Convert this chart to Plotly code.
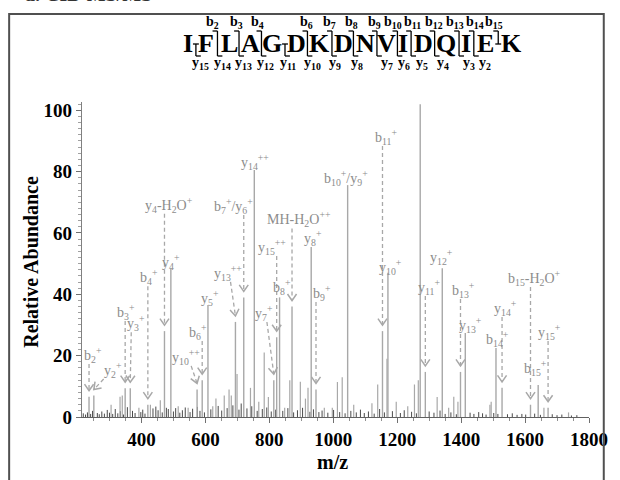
import math
import plotly.graph_objects as go

# ---------------- data ----------------
ion_labels = [
    "b<sub>2</sub><sup>+</sup>", "y<sub>2</sub><sup>+</sup>", "b<sub>3</sub><sup>+</sup>", "y<sub>3</sub><sup>+</sup>",
    "b<sub>4</sub><sup>+</sup>", "y<sub>4</sub>-H<sub>2</sub>O<sup>+</sup>", "y<sub>4</sub><sup>+</sup>",
    "y<sub>10</sub><sup>++</sup>", "b<sub>6</sub><sup>+</sup>", "y<sub>5</sub><sup>+</sup>",
    "y<sub>13</sub><sup>++</sup>", "b<sub>7</sub><sup>+</sup>/y<sub>6</sub><sup>+</sup>", "y<sub>14</sub><sup>++</sup>",
    "y<sub>7</sub><sup>+</sup>", "y<sub>15</sub><sup>++</sup>", "b<sub>8</sub><sup>+</sup>",
    "MH-H<sub>2</sub>O<sup>++</sup>", "y<sub>8</sub><sup>+</sup>", "b<sub>9</sub><sup>+</sup>",
    "b<sub>10</sub><sup>+</sup>/y<sub>9</sub><sup>+</sup>", "b<sub>11</sub><sup>+</sup>", "y<sub>10</sub><sup>+</sup>",
    "b<sub>12</sub><sup>+</sup>", "y<sub>11</sub><sup>+</sup>", "y<sub>12</sub><sup>+</sup>",
    "b<sub>13</sub><sup>+</sup>", "y<sub>13</sub><sup>+</sup>", "b<sub>14</sub><sup>+</sup>",
    "y<sub>14</sub><sup>+</sup>", "b<sub>15</sub>-H<sub>2</sub>O<sup>+</sup>", "b<sub>15</sub><sup>+</sup>",
    "y<sub>15</sub><sup>+</sup>",
]
ion_mz = [236, 251, 349, 365, 420, 472, 492, 574, 590, 608, 694, 720, 753, 814, 823, 832,
          871, 931, 946, 1045, 1154, 1171, 1272, 1288, 1341, 1398, 1413, 1509, 1528, 1617, 1641, 1672]
ion_int = [6.6, 7.0, 9.4, 9.4, 4.0, 28.0, 48.5, 9.0, 12.0, 36.5, 31.0, 39.0, 80.5, 12.0, 26.0, 39.0,
           36.0, 55.4, 9.0, 75.6, 28.0, 47.0, 102.0, 14.7, 48.5, 14.7, 27.4, 22.5, 9.5, 4.0, 10.4, 3.0]

other_mz = [305, 333, 340, 392, 428, 459, 515, 546, 623, 633, 659, 674, 681, 699, 741, 767, 784, 797,
            848, 864, 897, 913, 921, 972, 997, 1013, 1028, 1064, 1121, 1139, 1168, 1197, 1233, 1254,
            1266, 1325, 1361, 1377, 1390, 1490, 1494, 1659, 1736]
other_int = [4.0, 6.6, 7.0, 3.0, 4.0, 5.5, 3.5, 3.0, 3.5, 6.0, 7.0, 9.0, 7.0, 14.0, 9.5, 5.0, 21.0, 6.5,
             3.0, 12.0, 11.5, 6.0, 9.5, 3.0, 3.0, 11.4, 13.0, 4.0, 4.5, 10.6, 19.0, 5.0, 3.5, 10.6,
             12.0, 6.5, 3.0, 6.6, 5.0, 4.0, 5.0, 3.0, 1.5]

noise_mz = [218, 225, 231, 241, 247, 262, 268, 276, 284, 293, 300, 310, 318, 326, 334, 344, 356, 372,
            380, 398, 404, 411, 436, 445, 452, 465, 478, 484, 500, 507, 520, 528, 537, 552, 560, 575,
            583, 597, 617, 640, 651, 668, 686, 705, 712, 730, 745, 762, 778, 792, 806, 820, 842, 858,
            876, 888, 904, 927, 938, 955, 965, 983, 1001, 1020, 1037, 1055, 1072, 1085, 1097, 1110,
            1128, 1145, 1160, 1185, 1210, 1222, 1245, 1260, 1300, 1315, 1334, 1350, 1368, 1385, 1428,
            1440, 1455, 1467, 1478, 1502, 1515, 1545, 1560, 1575, 1590, 1602, 1630, 1648, 1685, 1700,
            1715, 1745, 1762]
noise_int = [1.2, 0.8, 1.5, 1.0, 2.0, 1.3, 0.9, 1.8, 1.1, 2.3, 1.4, 1.0, 2.6, 1.2, 1.9, 0.8, 3.2, 2.0,
             1.3, 1.6, 2.4, 1.1, 2.8, 3.4, 2.2, 1.5, 3.0, 2.6, 1.8, 2.9, 1.4, 2.2, 3.1, 1.6, 2.7, 3.3,
             2.0, 1.5, 2.5, 3.6, 2.1, 2.9, 3.8, 2.4, 4.4, 2.8, 3.5, 2.0, 2.6, 3.1, 1.8, 2.4, 2.0, 2.9,
             1.5, 2.2, 3.0, 1.7, 2.5, 1.6, 2.1, 1.4, 2.3, 1.6, 1.2, 2.0, 1.5, 2.4, 1.3, 1.8,
             1.1, 2.6, 1.5, 1.9, 1.3, 2.2, 1.7, 1.2, 1.8, 1.4, 2.1, 1.0, 1.5, 0.9, 1.4,
             1.0, 1.6, 1.2, 0.8, 1.3, 1.0, 0.9, 1.2, 0.7, 1.0, 0.8, 1.1, 0.7, 0.9, 0.6,
             0.8, 0.5, 0.6]

sequence = list("IFLAGDKDNVIDQIEK")
b_observed = [2, 3, 4, 6, 7, 8, 9, 10, 11, 12, 13, 14, 15]
y_observed = [15, 14, 13, 12, 11, 10, 9, 8, 7, 6, 5, 4, 3, 2]

x_ticks = [400, 600, 800, 1000, 1200, 1400, 1600, 1800]
y_ticks = [0, 20, 40, 60, 80, 100]

# ---------------- layout / style ----------------
W, H = 620, 480
PL, PR, PT, PB = 82, 23, 102, 63
X_RANGE = [214, 1800]
Y_RANGE = [0, 102.7]
PW, PH = W - PL - PR, H - PT - PB
KX = PW / (X_RANGE[1] - X_RANGE[0])   # px per m/z
KY = PH / (Y_RANGE[1] - Y_RANGE[0])   # px per % abundance

SERIF = "Liberation Serif"
LABEL_GRAY = "#8c8c8c"
LINE_GRAY = "#a8a8a8"
DARK = "#4a4a4a"

# per-ion label placement (layout): use arrow?, label x offset px, label height (%), arrow start x offset px
ion_arrow = [1, 1, 1, 1, 1, 1, 0, 1, 1, 0, 1, 1, 0, 1, 1, 0, 1, 0, 1, 0, 1, 0, 0, 1, 0, 1, 0, 0, 1, 1, 0, 1]
label_dx = [4, 19, 1, 6, 1, 5, 0, -11, -4, 2, -8, -10, 1, -10, -5, 2, 7.5, 2, 6, -2, 3.5, 3, 2, 4, -1, 3, 5, 2,
            3, 4, -3, 1]
label_y = [20.2, 15.3, 34.2, 30.6, 45.6, 69.2, 50.5, 19.6, 27.7, 38.8, 47.0, 68.8, 83.2, 33.9, 55.4, 42.4,
           64.4, 58.4, 40.4, 78.0, 91.3, 49.0, 106.6, 42.4, 52.2, 41.4, 30.0, 25.4, 35.5, 45.3, 16.0, 27.7]
start_dx = [0, 10, 0, 1, 0, 0, 0, -6, 0, 0, -5, 0, 0, -7, 0, 0, 0, 0, 0, 0, 0, 0, 0, 0, 0, 0, 0, 0, 0, 0, 0, 0]
TIP_GAP = 6      # px between arrow tip and peak top
START_GAP = 9    # px between label centre and dashed line start
ARM = 8          # chevron arm length px
ARM_ANGLE = math.radians(35)

# sequence graphic geometry (pixel positions)
SEQ_LETTER_X = [189.8, 207.7, 231.5, 253.4, 275.2, 300, 323, 347.8, 369.6, 391.5, 408.4, 429.3, 452.1,
                472, 491.9, 518.7]
SEQ_CUT_X = [197.7, 219.6, 241.5, 264.3, 288.2, 311, 335.9, 357.7, 381.6, 402.4, 416.3, 440.2, 465,
             480, 504.8]
B_LABEL_X = {2: 214.6, 3: 238.5, 4: 260.3, 6: 310, 7: 333.9, 8: 355.7, 9: 379.6, 10: 397.5, 11: 417.3,
             12: 439.2, 13: 461, 14: 481, 15: 500.8}
Y_LABEL_X = {15: 202.7, 14: 224.6, 13: 246.4, 12: 268.3, 11: 291.3, 10: 316, 9: 338.6, 8: 360.9,
             7: 391.5, 6: 409.4, 5: 427.3, 4: 449.1, 3: 475, 2: 490.9}
SEQ_MID, SEQ_TOP, SEQ_BOT = 44, 31, 56
B_LAB_Y, Y_LAB_Y = 22, 63


def px_to_paper(px, py):
    return (px - PL) / PW, (H - PB - py) / PH


def peak_trace(mzs, ints, color, width):
    xs, ys = [], []
    for m, v in zip(mzs, ints):
        xs += [m, m, None]
        ys += [0, v, None]
    return go.Scatter(x=xs, y=ys, mode="lines", line=dict(color=color, width=width),
                      hoverinfo="skip", showlegend=False, cliponaxis=False)


fig = go.Figure()
fig.add_trace(peak_trace(noise_mz, noise_int, DARK, 1))
fig.add_trace(peak_trace(other_mz, other_int, LINE_GRAY, 1.2))
fig.add_trace(peak_trace(ion_mz, ion_int, LINE_GRAY, 1.4))

annotations = []
dash_x, dash_y, v_x, v_y = [], [], [], []
for i, lab in enumerate(ion_labels):
    m, v = ion_mz[i], ion_int[i]
    annotations.append(dict(x=m + label_dx[i] / KX, y=label_y[i], xref="x", yref="y", text=lab,
                            showarrow=False, xanchor="center", yanchor="middle",
                            font=dict(family=SERIF, size=14, color=LABEL_GRAY)))
    if not ion_arrow[i]:
        continue
    tx, ty = m, v + TIP_GAP / KY
    sx, sy = m + start_dx[i] / KX, label_y[i] - START_GAP / KY
    dash_x += [sx, tx, None]
    dash_y += [sy, ty, None]
    # chevron in pixel space
    ux, uy = (tx - sx) * KX, (ty - sy) * KY
    n = math.hypot(ux, uy)
    ux, uy = -ux / n, -uy / n
    pts = []
    for a in (ARM_ANGLE, -ARM_ANGLE):
        rx = ux * math.cos(a) - uy * math.sin(a)
        ry = ux * math.sin(a) + uy * math.cos(a)
        pts.append((tx + ARM * rx / KX, ty + ARM * ry / KY))
    v_x += [pts[0][0], tx, pts[1][0], None]
    v_y += [pts[0][1], ty, pts[1][1], None]

fig.add_trace(go.Scatter(x=dash_x, y=dash_y, mode="lines", hoverinfo="skip", showlegend=False,
                         line=dict(color=LINE_GRAY, width=1.3, dash="4px,3px")))
fig.add_trace(go.Scatter(x=v_x, y=v_y, mode="lines", hoverinfo="skip", showlegend=False,
                         line=dict(color=LINE_GRAY, width=1.5)))

# ---- sequence graphic ----
shapes = []
for letter, lx in zip(sequence, SEQ_LETTER_X):
    px, py = px_to_paper(lx, SEQ_MID)
    annotations.append(dict(x=px, y=py, xref="paper", yref="paper", text=f"<b>{letter}</b>",
                            showarrow=False, xanchor="center", yanchor="middle",
                            font=dict(family=SERIF, size=26, color="black")))


def seg(x0, y0, x1, y1):
    a, b = px_to_paper(x0, y0)
    c, d = px_to_paper(x1, y1)
    shapes.append(dict(type="line", xref="paper", yref="paper", x0=a, y0=b, x1=c, y1=d,
                       line=dict(color="black", width=1.3)))


for k, cx in enumerate(SEQ_CUT_X, start=1):
    has_b = k in b_observed
    has_y = (16 - k) in y_observed
    top = SEQ_TOP if has_b else SEQ_MID
    bot = SEQ_BOT if has_y else SEQ_MID
    seg(cx, top, cx, bot)
    if has_b:
        seg(cx - 5, top, cx, top)
    if has_y:
        seg(cx, bot, cx + 5, bot)
    if not (has_b and has_y):
        seg(cx - 3, SEQ_MID, cx + 3, SEQ_MID)

for n in b_observed:
    px, py = px_to_paper(B_LABEL_X[n], B_LAB_Y)
    annotations.append(dict(x=px, y=py, xref="paper", yref="paper", text=f"<b>b<sub>{n}</sub></b>",
                            showarrow=False, xanchor="center", yanchor="middle",
                            font=dict(family=SERIF, size=14, color="black")))
for n in y_observed:
    px, py = px_to_paper(Y_LABEL_X[n], Y_LAB_Y)
    annotations.append(dict(x=px, y=py, xref="paper", yref="paper", text=f"<b>y<sub>{n}</sub></b>",
                            showarrow=False, xanchor="center", yanchor="middle",
                            font=dict(family=SERIF, size=14, color="black")))

# axis titles and panel caption
px, py = px_to_paper(30, 262)
annotations.append(dict(x=px, y=py, xref="paper", yref="paper", text="<b>Relative Abundance</b>",
                        textangle=-90, showarrow=False, xanchor="center", yanchor="middle",
                        font=dict(family=SERIF, size=20, color="black")))
px, py = px_to_paper(336, 462)
annotations.append(dict(x=px, y=py, xref="paper", yref="paper", text="<b>m/z</b>",
                        showarrow=False, xanchor="center", yanchor="middle",
                        font=dict(family=SERIF, size=20, color="black")))
px, py = px_to_paper(22, 7)
annotations.append(dict(x=px, y=py, xref="paper", yref="paper", text="<b>a. CID MS/MS</b>",
                        showarrow=False, xanchor="left", yanchor="bottom",
                        font=dict(family=SERIF, size=20, color="#333333")))

# outer frame
a, b = px_to_paper(8, 500)
c, d = px_to_paper(612, 14)
shapes.append(dict(type="rect", xref="paper", yref="paper", x0=a, y0=b, x1=c, y1=d,
                   line=dict(color="#505050", width=2), fillcolor="rgba(0,0,0,0)"))

tickfont = dict(family=SERIF, size=19, color="black", weight="bold")
fig.update_layout(
    width=W, height=H, margin=dict(l=PL, r=PR, t=PT, b=PB),
    paper_bgcolor="white", plot_bgcolor="white", showlegend=False,
    annotations=annotations, shapes=shapes,
    xaxis=dict(range=X_RANGE, tickvals=x_ticks, ticks="outside", ticklen=5, tickwidth=1,
               tickcolor="#707070", showline=True, linecolor="#606060", linewidth=1.2,
               showgrid=False, zeroline=False, tickfont=tickfont,
               minor=dict(dtick=50, tick0=0, ticks="outside", ticklen=3, tickcolor="#909090",
                          showgrid=False)),
    yaxis=dict(range=Y_RANGE, tickvals=y_ticks, ticks="outside", ticklen=5, tickwidth=1,
               tickcolor="#707070", showline=True, linecolor="#808080", linewidth=1.2,
               showgrid=False, zeroline=False, tickfont=tickfont,
               minor=dict(dtick=2, tick0=0, ticks="outside", ticklen=3, tickcolor="#a0a0a0",
                          showgrid=False)),
)

fig.write_html("out.html")
